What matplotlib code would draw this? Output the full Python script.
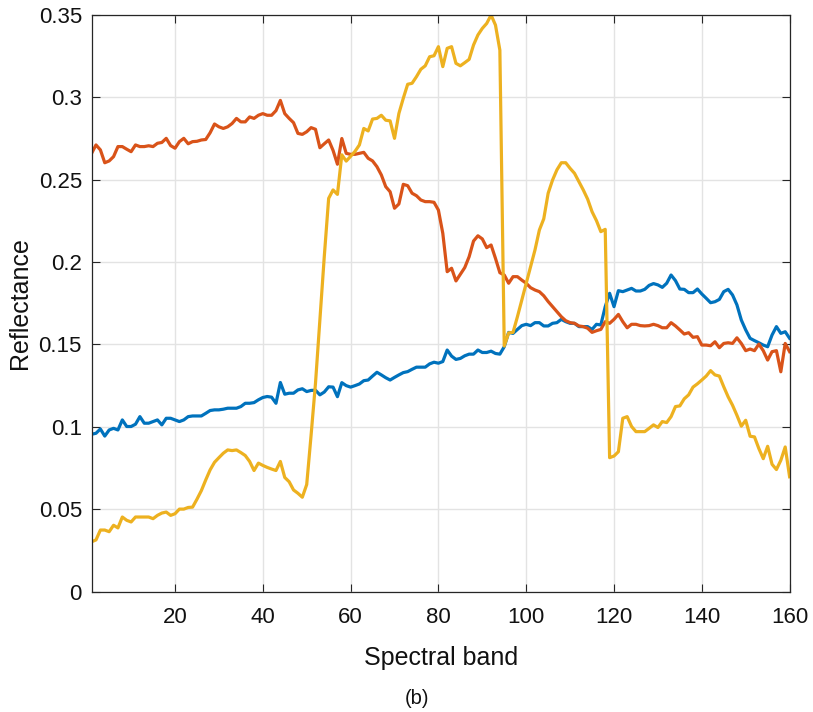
import matplotlib
matplotlib.use("Agg")
import matplotlib.pyplot as plt
import numpy as np

plt.rcParams['font.family'] = ['Liberation Sans', 'DejaVu Sans']

bands = list(range(1, 161))

series_blue = [
    0.0955, 0.0961, 0.0987, 0.0944, 0.0981, 0.0991, 0.0981, 0.1042, 0.1002, 0.1002,
    0.1016, 0.1062, 0.1022, 0.1022, 0.1032, 0.1042, 0.1012, 0.1052, 0.1052, 0.1042,
    0.1032, 0.1042, 0.1062, 0.1066, 0.1066, 0.1066, 0.1082, 0.1099, 0.1103, 0.1103,
    0.1107, 0.1113, 0.1113, 0.1113, 0.1123, 0.1143, 0.1143, 0.1147, 0.1164, 0.1178,
    0.1184, 0.1180, 0.1143, 0.1269, 0.1198, 0.1204, 0.1204, 0.1224, 0.1231, 0.1214,
    0.1221, 0.1222, 0.1194, 0.1211, 0.1243, 0.1241, 0.1183, 0.1268, 0.1250, 0.1241,
    0.1250, 0.1260, 0.1280, 0.1284, 0.1308, 0.1331, 0.1315, 0.1298, 0.1284, 0.1300,
    0.1315, 0.1329, 0.1335, 0.1349, 0.1362, 0.1362, 0.1362, 0.1382, 0.1392, 0.1386,
    0.1396, 0.1466, 0.1429, 0.1409, 0.1415, 0.1431, 0.1441, 0.1441, 0.1466, 0.1451,
    0.1451, 0.1459, 0.1445, 0.1441, 0.1486, 0.1573, 0.1567, 0.1591, 0.1614, 0.1622,
    0.1614, 0.1632, 0.1632, 0.1612, 0.1612, 0.1628, 0.1632, 0.1652, 0.1638, 0.1628,
    0.1628, 0.1608, 0.1608, 0.1608, 0.1591, 0.1622, 0.1618, 0.1729, 0.1810, 0.1729,
    0.1826, 0.1820, 0.1830, 0.1840, 0.1824, 0.1824, 0.1834, 0.1858, 0.1869, 0.1861,
    0.1846, 0.1871, 0.1921, 0.1887, 0.1836, 0.1834, 0.1814, 0.1814, 0.1836, 0.1806,
    0.1780, 0.1753, 0.1759, 0.1773, 0.1820, 0.1834, 0.1800, 0.1740, 0.1648, 0.1588,
    0.1537, 0.1523, 0.1510, 0.1496, 0.1486, 0.1557, 0.1608, 0.1567, 0.1577, 0.1537,
]

series_orange = [
    0.2659, 0.2710, 0.2680, 0.2602, 0.2613, 0.2639, 0.2700, 0.2700, 0.2684, 0.2669,
    0.2710, 0.2700, 0.2700, 0.2705, 0.2700, 0.2720, 0.2725, 0.2750, 0.2706, 0.2690,
    0.2730, 0.2750, 0.2717, 0.2730, 0.2732, 0.2740, 0.2743, 0.2784, 0.2837, 0.2820,
    0.2810, 0.2820, 0.2840, 0.2871, 0.2850, 0.2850, 0.2880, 0.2871, 0.2890, 0.2900,
    0.2890, 0.2890, 0.2918, 0.2980, 0.2900, 0.2871, 0.2845, 0.2780, 0.2774, 0.2790,
    0.2815, 0.2805, 0.2693, 0.2717, 0.2740, 0.2677, 0.2593, 0.2749, 0.2659, 0.2653,
    0.2653, 0.2659, 0.2665, 0.2629, 0.2613, 0.2578, 0.2528, 0.2457, 0.2426, 0.2326,
    0.2352, 0.2471, 0.2463, 0.2417, 0.2402, 0.2376, 0.2366, 0.2366, 0.2362, 0.2315,
    0.2174, 0.1941, 0.1962, 0.1885, 0.1925, 0.1966, 0.2032, 0.2127, 0.2159, 0.2140,
    0.2087, 0.2103, 0.2022, 0.1935, 0.1921, 0.1871, 0.1911, 0.1911, 0.1890, 0.1871,
    0.1844, 0.1830, 0.1820, 0.1795, 0.1760, 0.1729, 0.1699, 0.1668, 0.1644, 0.1632,
    0.1628, 0.1612, 0.1608, 0.1598, 0.1573, 0.1583, 0.1591, 0.1638, 0.1628, 0.1652,
    0.1682, 0.1638, 0.1601, 0.1622, 0.1622, 0.1614, 0.1612, 0.1614, 0.1622, 0.1614,
    0.1601, 0.1601, 0.1632, 0.1612, 0.1588, 0.1563, 0.1571, 0.1543, 0.1547, 0.1496,
    0.1496, 0.1492, 0.1516, 0.1480, 0.1506, 0.1510, 0.1506, 0.1540, 0.1506, 0.1462,
    0.1472, 0.1462, 0.1502, 0.1462, 0.1405, 0.1456, 0.1462, 0.1334, 0.1506, 0.1456,
]

series_yellow = [
    0.0303, 0.0314, 0.0374, 0.0374, 0.0364, 0.0403, 0.0387, 0.0453, 0.0433, 0.0423,
    0.0453, 0.0453, 0.0453, 0.0453, 0.0443, 0.0463, 0.0477, 0.0483, 0.0463, 0.0473,
    0.0501, 0.0501, 0.0511, 0.0513, 0.0561, 0.0613, 0.0678, 0.0739, 0.0785, 0.0813,
    0.0840, 0.0860, 0.0856, 0.0860, 0.0844, 0.0826, 0.0790, 0.0735, 0.0780, 0.0766,
    0.0754, 0.0744, 0.0735, 0.0790, 0.0693, 0.0667, 0.0617, 0.0597, 0.0573, 0.0650,
    0.0950, 0.1264, 0.1648, 0.2032, 0.2386, 0.2437, 0.2410, 0.2650, 0.2612, 0.2641,
    0.2671, 0.2710, 0.2810, 0.2795, 0.2867, 0.2871, 0.2890, 0.2860, 0.2856, 0.2750,
    0.2901, 0.2993, 0.3078, 0.3084, 0.3124, 0.3169, 0.3190, 0.3245, 0.3251, 0.3306,
    0.3185, 0.3296, 0.3306, 0.3205, 0.3190, 0.3209, 0.3229, 0.3316, 0.3377, 0.3417,
    0.3447, 0.3498, 0.3437, 0.3285, 0.1490, 0.1570, 0.1573, 0.1668, 0.1769, 0.1871,
    0.1970, 0.2073, 0.2194, 0.2262, 0.2417, 0.2497, 0.2559, 0.2602, 0.2602, 0.2568,
    0.2538, 0.2487, 0.2437, 0.2381, 0.2305, 0.2251, 0.2184, 0.2198, 0.0813, 0.0823,
    0.0849, 0.1052, 0.1062, 0.1002, 0.0971, 0.0971, 0.0971, 0.0991, 0.1012, 0.0996,
    0.1032, 0.1026, 0.1062, 0.1123, 0.1127, 0.1170, 0.1194, 0.1241, 0.1261, 0.1284,
    0.1308, 0.1341, 0.1315, 0.1308, 0.1243, 0.1182, 0.1131, 0.1070, 0.1004, 0.1040,
    0.0943, 0.0939, 0.0868, 0.0807, 0.0882, 0.0773, 0.0741, 0.0797, 0.0878, 0.0697,
]

x_ticks = [20, 40, 60, 80, 100, 120, 140, 160]
y_ticks = [0, 0.05, 0.1, 0.15, 0.2, 0.25, 0.3, 0.35]
y_tick_labels = ["0", "0.05", "0.1", "0.15", "0.2", "0.25", "0.3", "0.35"]

W, H = 813, 712
fig = plt.figure(figsize=(W / 100, H / 100), dpi=100)
ax = fig.add_axes([91.6 / W, (H - 591.7) / H, (789.6 - 91.6) / W, (591.7 - 14.7) / H])

lw = 2.3
ax.plot(bands, series_blue, color="#0072BD", lw=lw, solid_joinstyle="round")
ax.plot(bands, series_orange, color="#D95319", lw=lw, solid_joinstyle="round")
ax.plot(bands, series_yellow, color="#EDB120", lw=lw, solid_joinstyle="round")

ax.set_xlim(1, 160)
ax.set_ylim(0, 0.35)
ax.set_xticks(x_ticks)
ax.set_yticks(y_ticks)
ax.set_yticklabels(y_tick_labels)

ax.grid(True, color="#e3e3e3", lw=1.0)
ax.set_axisbelow(True)
for s in ax.spines.values():
    s.set_color("#262626")
    s.set_linewidth(0.9)
ax.tick_params(direction="in", length=5.5, width=0.8, color="#262626",
               top=True, right=True, labelsize=16, labelcolor="#111111")
ax.tick_params(axis="x", pad=11)
ax.tick_params(axis="y", pad=7)

ax.set_xlabel("Spectral band", fontsize=18, labelpad=13, color="#111111")
ax.set_ylabel("Reflectance", fontsize=18, labelpad=5, color="#111111")

fig.text(417 / W, 1 - 699 / H, "(b)", fontsize=14.5, ha="center", va="center", color="#111111")

fig.savefig("out.png", dpi=100)
